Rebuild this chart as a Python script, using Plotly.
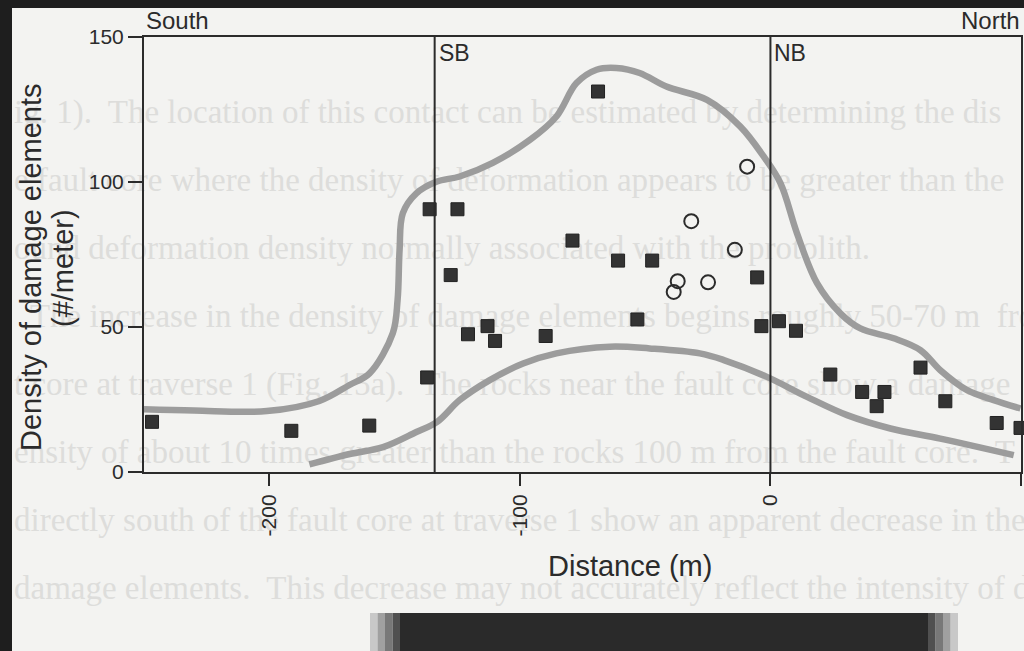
import plotly.graph_objects as go

# ---------------- data ----------------
sq_x = [-246.8, -191.2, -160.1, -137.0, -136.0, -124.9, -127.6, -120.7, -112.9, -109.9,
        -89.7, -79.0, -68.8, -60.8, -47.2, -53.1, -5.3, -3.6, 3.4, 10.2,
        23.9, 36.6, 45.5, 42.4, 59.9, 69.8, 90.3, 99.8]
sq_y = [17.3, 14.2, 16.0, 32.6, 90.6, 90.6, 67.9, 47.5, 50.3, 45.2,
        46.9, 79.8, 131.2, 72.9, 72.9, 52.6, 67.1, 50.3, 52.0, 48.7,
        33.6, 27.6, 27.6, 22.7, 36.0, 24.4, 16.9, 15.2]

circ_x = [-37.0, -38.6, -31.6, -9.3, -24.9, -14.2]
circ_y = [65.8, 62.1, 86.5, 105.3, 65.4, 76.6]

upper_x = [-250, -230, -201, -180, -168, -160, -150.7, -148.8, -148, -146.7, -141.3, -133.3,
           -124, -110.8, -96, -85.4, -77.4, -69.4, -61.5, -52.2, -41.5, -25.3, -12, -2.7,
           4, 10.6, 18.6, 27.9, 35.9, 49.2, 59.9, 67.8, 78.5, 89.1, 99.8]
upper_y = [21.6, 21.2, 21.0, 24.5, 30.0, 34.0, 47.9, 59.3, 76.5, 89.3, 96.1, 100.1,
           101.9, 106.6, 114.5, 122.6, 134.1, 138.7, 139.3, 137.6, 132.9, 128.3, 119.1, 108.8,
           99.6, 82.3, 65.1, 54.7, 49.5, 46.1, 42.0, 35.1, 28.2, 24.8, 21.9]

lower_x = [-184, -167.9, -154.6, -141.3, -133, -124, -112, -98.7, -85.4, -64.1, -48.2,
           -28.2, -18.6, -1.4, 14.6, 30.6, 47.9, 67.8, 97.1]
lower_y = [2.6, 6.2, 8.6, 13.8, 17.3, 24.8, 31.7, 37.4, 40.9, 43.2, 42.6,
           40.9, 38.6, 32.8, 25.9, 19.6, 15.0, 11.5, 5.8]

boundary_x = [-134, 0]
boundary_labels = ["SB", "NB"]

x_ticks = [-200, -100, 0, 100]
y_ticks = [0, 50, 100, 150]
x_range = [-250, 100]
y_range = [0, 150]

bg_lines = [
    "ig. 1).  The location of this contact can be estimated by determining the dis",
    "e fault core where the density of deformation appears to be greater than the",
    "ound deformation density normally associated with the protolith.",
    "  The increase in the density of damage elements begins roughly 50-70 m  fro",
    "t core at traverse 1 (Fig. 15a).  The rocks near the fault core show a damage",
    "ensity of about 10 times greater than the rocks 100 m from the fault core.  T",
    "directly south of the fault core at traverse 1 show an apparent decrease in the",
    "damage elements.  This decrease may not accurately reflect the intensity of d",
]
bg_line_y = [115, 183, 251, 319, 387, 455, 523, 591]

# ---------------- layout (pixel based) ----------------
W, H = 1024, 651
PL, PR, PT, PB = 144, 1021, 37, 472   # plot frame in pixels


def FX(px):
    return px / W


def FY(py):
    return 1 - py / H


ink = "#2b2b2b"
paper = "#f3f3f1"
font = "Liberation Sans, Arial, sans-serif"

fig = go.Figure()

# background subplot (whole page, pixel coords): faint bleed-through text of the scan
fig.add_trace(go.Scatter(x=[14] * len(bg_lines), y=bg_line_y, xaxis="x", yaxis="y",
                         mode="text", text=bg_lines, textposition="middle right",
                         textfont=dict(family="Liberation Serif, Times New Roman, serif",
                                       size=33, color="#dddddb"),
                         hoverinfo="skip", showlegend=False))

# chart subplot
fig.add_trace(go.Scatter(x=upper_x, y=upper_y, mode="lines", xaxis="x2", yaxis="y2",
                         line=dict(color="#9c9c9c", width=6.5, shape="spline", smoothing=1.0),
                         hoverinfo="skip", showlegend=False))
fig.add_trace(go.Scatter(x=lower_x, y=lower_y, mode="lines", xaxis="x2", yaxis="y2",
                         line=dict(color="#9c9c9c", width=6.5, shape="spline", smoothing=1.0),
                         hoverinfo="skip", showlegend=False))
fig.add_trace(go.Scatter(x=sq_x, y=sq_y, mode="markers", xaxis="x2", yaxis="y2",
                         marker=dict(symbol="square", size=13, color="#333333",
                                     line=dict(color="#222222", width=1)),
                         showlegend=False, cliponaxis=False))
fig.add_trace(go.Scatter(x=circ_x, y=circ_y, mode="markers", xaxis="x2", yaxis="y2",
                         marker=dict(symbol="circle-open", size=14, color="#2b2b2b",
                                     line=dict(width=2)),
                         showlegend=False))

shapes = []
for bx in boundary_x:
    shapes.append(dict(type="line", xref="x2", yref="y2 domain", x0=bx, x1=bx, y0=0, y1=1,
                       line=dict(color=ink, width=2)))

# scan frame (dark borders at top/left) and dark bar at bottom
shapes.append(dict(type="rect", xref="paper", yref="paper", x0=0, x1=1,
                   y0=FY(8), y1=1, fillcolor="#1e1e1e", line=dict(width=0), layer="below"))
shapes.append(dict(type="rect", xref="paper", yref="paper", x0=0, x1=FX(12),
                   y0=0, y1=1, fillcolor="#1e1e1e", line=dict(width=0), layer="below"))
shapes.append(dict(type="rect", xref="paper", yref="paper", x0=FX(400), x1=FX(928),
                   y0=0, y1=FY(613), fillcolor="#2a2a2a", line=dict(width=0), layer="below"))
grad = ["#c8c8c8", "#a0a0a0", "#787878", "#505050"]
for i, c in enumerate(grad):
    shapes.append(dict(type="rect", xref="paper", yref="paper", x0=FX(370 + 7.5 * i), x1=FX(377.5 + 7.5 * i),
                       y0=0, y1=FY(613), fillcolor=c, line=dict(width=0), layer="below"))
    shapes.append(dict(type="rect", xref="paper", yref="paper", x0=FX(958 - 7.5 * (i + 1)), x1=FX(958 - 7.5 * i),
                       y0=0, y1=FY(613), fillcolor=c, line=dict(width=0), layer="below"))

annotations = []
for bx, lab in zip(boundary_x, boundary_labels):
    annotations.append(dict(text=lab, xref="x2", yref="y2 domain", x=bx, y=1, xshift=2, yshift=-1,
                            xanchor="left", yanchor="top", showarrow=False,
                            font=dict(family=font, size=23, color=ink)))
annotations.append(dict(text="South", xref="paper", yref="paper", x=FX(144), y=FY(21),
                        xanchor="left", yanchor="middle", showarrow=False,
                        font=dict(family=font, size=24, color=ink)))
annotations.append(dict(text="North", xref="paper", yref="paper", x=FX(1022), y=FY(21),
                        xanchor="right", yanchor="middle", showarrow=False,
                        font=dict(family=font, size=24, color=ink)))
annotations.append(dict(text="Density of damage elements", xref="paper", yref="paper",
                        x=FX(31), y=FY(267), textangle=-90, xanchor="center", yanchor="middle",
                        showarrow=False, font=dict(family=font, size=29, color=ink)))
annotations.append(dict(text="(#/meter)", xref="paper", yref="paper",
                        x=FX(63), y=FY(268), textangle=-90, xanchor="center", yanchor="middle",
                        showarrow=False, font=dict(family=font, size=29, color=ink)))
annotations.append(dict(text="Distance (m)", xref="paper", yref="paper",
                        x=FX(630), y=FY(566), xanchor="center", yanchor="middle",
                        showarrow=False, font=dict(family=font, size=29, color=ink)))

fig.update_layout(
    template="none",
    width=W, height=H, autosize=False,
    margin=dict(l=0, r=0, t=0, b=0, pad=0, autoexpand=False),
    paper_bgcolor=paper, plot_bgcolor="rgba(0,0,0,0)",
    font=dict(family=font, color=ink),
    shapes=shapes, annotations=annotations,
    showlegend=False,
    xaxis=dict(domain=[0, 1], range=[0, W], visible=False, fixedrange=True, automargin=False),
    yaxis=dict(domain=[0, 1], range=[H, 0], visible=False, fixedrange=True, automargin=False),
    xaxis2=dict(domain=[FX(PL), FX(PR)], anchor="y2", range=x_range, automargin=False,
                tickvals=x_ticks, ticktext=[str(v) for v in x_ticks],
                tickangle=-90, ticks="outside", ticklen=12, tickwidth=2, tickcolor=ink,
                showline=True, linecolor=ink, linewidth=2, mirror=True,
                showgrid=False, zeroline=False,
                tickfont=dict(family=font, size=21, color=ink)),
    yaxis2=dict(domain=[FY(PB), FY(PT)], anchor="x2", range=y_range, automargin=False,
                tickvals=y_ticks, ticks="outside", ticklen=14, tickwidth=2,
                tickcolor=ink, showline=True, linecolor=ink, linewidth=2, mirror=True,
                showgrid=False, zeroline=False,
                tickfont=dict(family=font, size=21, color=ink)),
)

fig.write_html("out.html", config={"displayModeBar": False, "responsive": False},
               post_script="document.body.style.margin='0px';document.body.style.overflow='hidden';")
